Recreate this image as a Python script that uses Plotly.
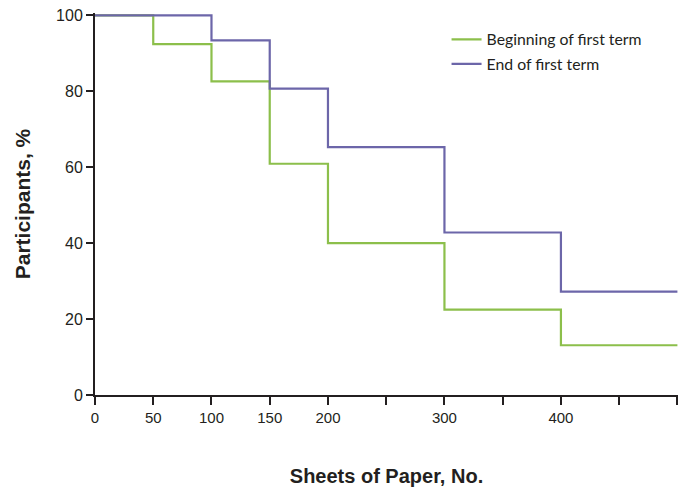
import plotly.graph_objects as go

sheets = [0, 50, 100, 150, 200, 300, 400, 500]
beginning = [100, 92.4, 82.6, 60.9, 40.0, 22.5, 13.1, 13.1]
end_term = [100, 100, 93.4, 80.7, 65.3, 42.8, 27.2, 27.2]

tick_vals = [0, 50, 100, 150, 200, 250, 300, 350, 400, 450, 500]
tick_text = ["0", "50", "100", "150", "200", "", "300", "", "400", "", ""]
y_ticks = [0, 20, 40, 60, 80, 100]

green = "#8cbf4b"
purple = "#6c66a9"

fig = go.Figure()
fig.add_trace(go.Scatter(x=sheets, y=beginning, mode="lines", line_shape="hv",
                         line=dict(color=green, width=2.2),
                         name="Beginning of first term", legendgroup="a"))
fig.add_trace(go.Scatter(x=sheets, y=end_term, mode="lines", line_shape="hv",
                         line=dict(color=purple, width=2.2),
                         name="End of first term", legendgroup="b"))

fig.update_layout(
    width=691, height=487,
    margin=dict(l=95, r=13, t=13, b=92),
    plot_bgcolor="white", paper_bgcolor="white",
    font=dict(family="Liberation Sans, Arial, sans-serif", color="#231f20"),
    showlegend=True,
    legend=dict(x=0.603, y=0.975, xanchor="left", yanchor="top",
                bgcolor="rgba(0,0,0,0)", traceorder="grouped", tracegroupgap=1,
                font=dict(family="Lato, Open Sans, sans-serif", size=15.8, color="#231f20")),
    xaxis=dict(range=[0, 500.5], tickvals=tick_vals, ticktext=tick_text, automargin=False,
               showgrid=False, zeroline=False, showline=True, linecolor="#231f20",
               linewidth=2, ticks="outside", ticklen=8, tickwidth=2, tickcolor="#231f20",
               tickfont=dict(size=15),
               title=dict(text="<b>Sheets of Paper, No.</b>", font=dict(size=20), standoff=44)),
    yaxis=dict(range=[0, 100.6], tickvals=y_ticks, automargin=False,
               showgrid=False, zeroline=False, showline=True, linecolor="#231f20",
               linewidth=2, ticks="outside", ticklen=7, tickwidth=2, tickcolor="#231f20",
               tickfont=dict(size=16),
               title=dict(text="<b>Participants, %</b>", font=dict(size=21), standoff=20)),
)

fig.write_html("out.html")
